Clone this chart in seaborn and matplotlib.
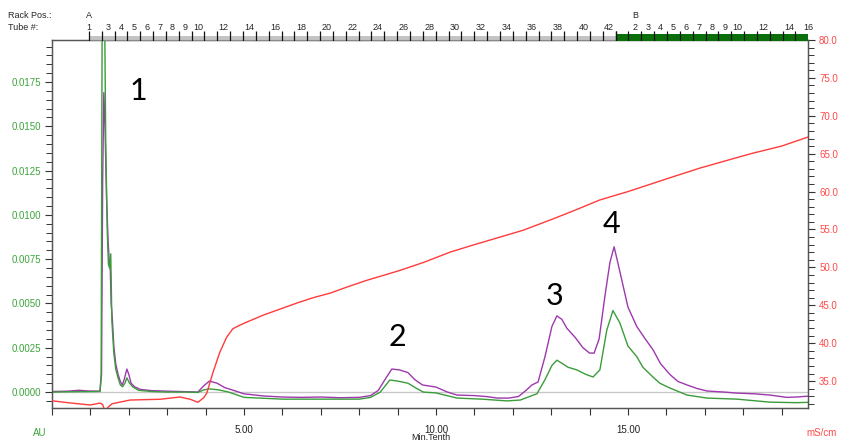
import numpy as np
import pandas as pd
import matplotlib
matplotlib.use("Agg")
import matplotlib.pyplot as plt
import matplotlib.transforms as mtrans
from matplotlib.ticker import MultipleLocator, FixedLocator
import seaborn as sns

# ---------------- data ----------------
purple_t = [0.00, 0.40, 0.70, 0.95, 1.25, 1.29, 1.32, 1.35, 1.38, 1.42, 1.46, 1.49, 1.52, 1.54,
            1.57, 1.61, 1.66, 1.72, 1.78, 1.83, 1.88, 1.95, 2.00, 2.06, 2.15, 2.30, 2.60, 3.00,
            3.50, 3.80, 3.95, 4.10, 4.30, 4.50, 4.75, 5.00, 5.50, 6.00, 6.50, 7.00, 7.50, 8.00,
            8.30, 8.50, 8.70, 8.85, 9.05, 9.27, 9.45, 9.65, 10.00, 10.30, 10.55, 11.00, 11.30,
            11.60, 11.90, 12.15, 12.35, 12.50, 12.66, 12.84, 13.02, 13.15, 13.28, 13.41, 13.62,
            13.83, 14.00, 14.12, 14.25, 14.40, 14.53, 14.64, 14.79, 15.00, 15.23, 15.45, 15.65,
            15.85, 16.09, 16.30, 16.54, 16.80, 17.06, 17.50, 17.84, 18.30, 18.70, 19.14, 19.40,
            19.70]
purple_au = [0.00003, 0.00005, 0.00010, 0.00006, 0.00005, 0.0010, 0.0120, 0.0169, 0.0150, 0.0110,
             0.0086, 0.0074, 0.0068, 0.0050, 0.0042, 0.0026, 0.0016, 0.0010, 0.0006, 0.0004,
             0.0007, 0.0013, 0.0010, 0.0005, 0.0003, 0.00015, 0.00008, 0.00005, 0.00002, 0.0,
             0.00035, 0.00062, 0.00050, 0.00025, 0.00008, -0.00010, -0.00022, -0.00028, -0.00030,
             -0.00028, -0.00032, -0.00030, -0.00020, 0.00010, 0.0008, 0.0013, 0.00125, 0.0011,
             0.0007, 0.0004, 0.00028, 0.0, -0.00017, -0.00020, -0.00025, -0.00034, -0.00034,
             -0.00025, 0.0001, 0.0004, 0.00057, 0.0020, 0.0037, 0.0043, 0.0041, 0.0036, 0.0031,
             0.0025, 0.0022, 0.0022, 0.0030, 0.0054, 0.0073, 0.0082, 0.0068, 0.0048, 0.0037,
             0.0030, 0.0024, 0.0016, 0.0010, 0.0006, 0.0004, 0.0002, 0.00006, 0.0, -0.00006,
             -0.00010, -0.00017, -0.00030, -0.00028, -0.00023]

green_t = [0.00, 0.70, 1.25, 1.28, 1.31, 1.36, 1.40, 1.44, 1.47, 1.50, 1.53, 1.56, 1.61, 1.66,
           1.72, 1.78, 1.84, 1.90, 1.95, 2.02, 2.10, 2.25, 2.60, 3.00, 3.50, 3.80, 3.95, 4.10,
           4.35, 4.60, 5.00, 5.50, 6.00, 7.00, 8.00, 8.30, 8.55, 8.80, 9.00, 9.27, 9.50, 9.67,
           10.00, 10.55, 11.20, 11.85, 12.20, 12.50, 12.63, 12.84, 13.02, 13.15, 13.30, 13.44,
           13.67, 13.90, 14.09, 14.27, 14.45, 14.61, 14.79, 15.00, 15.23, 15.39, 15.65, 15.83,
           16.09, 16.54, 17.06, 17.84, 18.70, 19.40, 19.70]
green_au = [0.00000, 0.00002, 0.00003, 0.0010, 0.0240, 0.0240, 0.0140, 0.0090, 0.0072, 0.0070,
            0.0078, 0.0040, 0.0022, 0.0013, 0.0008, 0.0004, 0.0003, 0.0005, 0.0008, 0.0005,
            0.0003, 0.0001, 0.00003, 0.0, 0.0, -0.00002, 0.00012, 0.00018, 0.00012, 0.0,
            -0.0003, -0.00035, -0.0004, -0.0004, -0.0004, -0.0003, 0.0, 0.00068, 0.00062,
            0.0005, 0.0002, 0.0, -0.00005, -0.00034, -0.0004, -0.0005, -0.00045, -0.0002,
            -0.0001, 0.0007, 0.0015, 0.0018, 0.0016, 0.0014, 0.00125, 0.0010, 0.00085, 0.00125,
            0.0035, 0.0046, 0.0039, 0.0026, 0.0020, 0.0014, 0.00085, 0.0005, 0.00023, -0.00017,
            -0.00034, -0.0004, -0.00057, -0.0006, -0.00058]

red_t = [0.00, 0.50, 1.00, 1.25, 1.32, 1.38, 1.45, 1.56, 2.03, 2.81, 3.33, 3.60, 3.80, 3.95,
         4.03, 4.19, 4.37, 4.55, 4.71, 4.90, 5.08, 5.50, 5.94, 6.38, 6.80, 7.24, 7.68, 8.20,
         8.60, 9.06, 9.70, 10.36, 11.00, 11.67, 12.27, 13.00, 13.60, 14.27, 15.00, 15.60,
         16.20, 16.875, 17.50, 18.20, 19.00, 19.69]
red_ms = [32.4, 32.1, 31.85, 32.1, 31.9, 31.0, 31.5, 32.0, 32.5, 32.6, 32.9, 32.6, 32.2, 32.8,
          33.4, 36.1, 38.8, 40.8, 41.9, 42.4, 42.8, 43.7, 44.5, 45.3, 46.0, 46.6, 47.4, 48.3,
          48.9, 49.6, 50.7, 52.0, 53.0, 54.0, 54.9, 56.3, 57.5, 58.9, 60.0, 61.0, 62.0, 63.1,
          64.0, 65.0, 66.0, 67.2]

peak_names = ["1", "2", "3", "4"]
peak_t = [2.24, 8.99, 13.10, 14.56]
peak_au = [0.0170, 0.0031, 0.0054, 0.0095]

# fraction collector (minutes)
rackA_first_tube = 2
rackA_last_tube = 42
rackA_start = 0.96          # start of tube A2
tube_width = 0.3346
rackA_labels = [1, 3, 4, 5, 6, 7, 8, 9, 10] + list(range(12, 43, 2))
rackB_labels = [2, 3, 4, 5, 6, 7, 8, 9, 10, 12, 14, 16]

x_ticks_labeled = [5, 10, 15]
x_tick_texts = ["5.00", "10.00", "15.00"]

# ---------------- style ----------------
sns.set_style("white")
plt.rcParams["font.family"] = ["Liberation Sans", "DejaVu Sans"]

GREEN = "#3a9c3a"
PURPLE = "#9e38ae"
RED = "#ff3b3b"
TXT_GREEN = "#3ca53c"
TXT_RED = "#ff4a4a"
FS = 7

W, H = 852, 441
fig = plt.figure(figsize=(W / 100, H / 100), dpi=100)
L, R, T, B = 52, 808, 40, 408
ax = fig.add_axes([L / W, 1 - B / H, (R - L) / W, (B - T) / H])
ax2 = ax.twinx()

xmax = 19.69
ax.set_xlim(0, xmax)
ax.set_ylim(-0.0009, 0.01987)
ax2.set_ylim(31.45, 80.0)

ax.axhline(0, color="#c8c8c8", lw=1.0, zorder=1)

dfp = pd.DataFrame({"t": purple_t, "au": purple_au})
dfg = pd.DataFrame({"t": green_t, "au": green_au})
dfr = pd.DataFrame({"t": red_t, "ms": red_ms})
sns.lineplot(data=dfp, x="t", y="au", ax=ax, color=PURPLE, lw=1.0, estimator=None, zorder=3)
sns.lineplot(data=dfg, x="t", y="au", ax=ax, color=GREEN, lw=1.0, estimator=None, zorder=4)
sns.lineplot(data=dfr, x="t", y="ms", ax=ax2, color=RED, lw=1.0, estimator=None, zorder=3)

for name, tx, ty in zip(peak_names, peak_t, peak_au):
    ax.text(tx, ty, name, fontsize=22, family=["Lato", "DejaVu Sans"], ha="center",
            va="center", color="black")

# axes formatting
for a in (ax, ax2):
    for s in a.spines.values():
        s.set_color("#555555")
        s.set_linewidth(0.9)
    a.set_xlabel("")
    a.set_ylabel("")

ax.yaxis.set_major_locator(MultipleLocator(0.0025))
ax.yaxis.set_minor_locator(MultipleLocator(0.0005))
ax.yaxis.set_major_formatter(matplotlib.ticker.FuncFormatter(lambda v, p: f"{v:.4f}"))
ax.tick_params(axis="y", which="major", length=5, width=0.8, color="#333333",
               labelsize=FS, labelcolor=TXT_GREEN, pad=3, direction="out", left=True)
ax.tick_params(axis="y", which="minor", length=4, width=0.7, color="#333333",
               direction="out", left=True)

ax.xaxis.set_major_locator(FixedLocator(x_ticks_labeled))
ax.set_xticklabels(x_tick_texts)
ax.xaxis.set_minor_locator(MultipleLocator(1))
ax.tick_params(axis="x", which="both", length=5, width=0.8, color="#333333",
               labelsize=FS, labelcolor="#222222", pad=7, direction="out", bottom=True)

ax2.yaxis.set_major_locator(MultipleLocator(5))
ax2.yaxis.set_minor_locator(MultipleLocator(1))
ax2.yaxis.set_major_formatter(matplotlib.ticker.FuncFormatter(lambda v, p: f"{v:.1f}"))
ax2.tick_params(axis="y", which="major", length=5, width=0.8, color="#333333",
                labelsize=FS, labelcolor=TXT_RED, pad=3, direction="out", right=True)
ax2.tick_params(axis="y", which="minor", length=4, width=0.7, color="#333333",
                direction="out", right=True)

# unit labels
fig.text(40 / W, 1 - 433 / H, "AU", color=TXT_GREEN, fontsize=FS, ha="center", va="center")
fig.text(822 / W, 1 - 433 / H, "mS/cm", color=TXT_RED, fontsize=FS, ha="center", va="center")
fig.text(431 / W, 1 - 437.5 / H, "Min.Tenth", color="#222222", fontsize=6.5, ha="center",
         va="center")

# ---------------- fraction ruler on top ----------------
axr = fig.add_axes([L / W, 1 - 41 / H, (R - L) / W, 10 / H])
axr.set_xlim(0, xmax)
axr.set_ylim(0, 10)
axr.axis("off")
a_bounds = [rackA_start + i * tube_width for i in range(rackA_last_tube - rackA_first_tube + 2)]
rackB_start = a_bounds[-1]
n_b = int(np.floor((xmax - rackB_start) / tube_width + 1e-6)) + 1
b_bounds = [min(rackB_start + i * tube_width, xmax) for i in range(n_b)]
axr.fill_between([a_bounds[0], rackB_start], 1, 5, color="#c4c4c4", lw=0)
axr.plot([a_bounds[0], rackB_start], [1, 1], color="#8a8a8a", lw=0.8)
axr.fill_between([rackB_start, xmax], 0.5, 7, color="#0a6e0a", lw=0)
axr.vlines(a_bounds + b_bounds, 0, 10, color="#111111", lw=0.9)

tr = mtrans.blended_transform_factory(ax.transData, fig.transFigure)
ylab_tube = 1 - 27 / H
ylab_rack = 1 - 15 / H
for k in rackA_labels:
    if k == 1:
        xpos = rackA_start
    else:
        xpos = rackA_start + (k - rackA_first_tube + 0.5) * tube_width
    fig.text(xpos, ylab_tube, str(k), transform=tr, fontsize=6.5, ha="center", va="center")
for k in rackB_labels:
    xpos = min(rackB_start + (k - 0.5) * tube_width, xmax)
    fig.text(xpos, ylab_tube, str(k), transform=tr, fontsize=6.5, ha="center", va="center")
fig.text(rackA_start, ylab_rack, "A", transform=tr, fontsize=6.5, ha="center", va="center")
fig.text(rackB_start + 1.5 * tube_width, ylab_rack, "B", transform=tr, fontsize=6.5,
         ha="center", va="center")
fig.text(8 / W, ylab_rack, "Rack Pos.:", fontsize=6.5, ha="left", va="center")
fig.text(8 / W, ylab_tube, "Tube #:", fontsize=6.5, ha="left", va="center")

fig.savefig("out.png", dpi=100)
